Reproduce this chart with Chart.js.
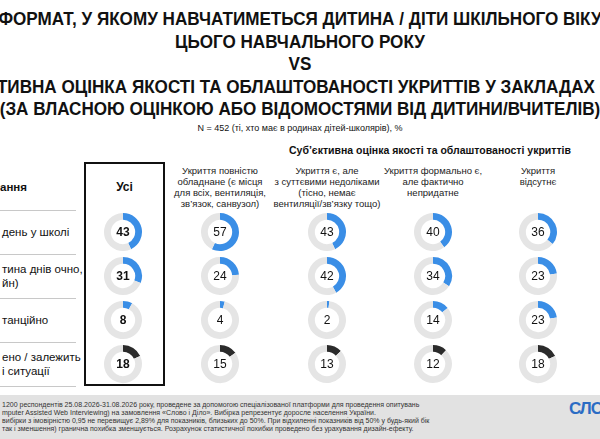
<!DOCTYPE html>
<html><head><meta charset="utf-8">
<script src="https://cdn.jsdelivr.net/npm/chart.js@4"></script>
<style>
body{margin:0;width:600px;height:439px;overflow:hidden;position:relative;background:#fff;font-family:Arial,"Liberation Sans",sans-serif;color:#111}
.abs{position:absolute}
.title{left:-200px;width:1000px;text-align:center;font-weight:bold;font-size:19px;line-height:22.5px;top:8px;white-space:nowrap;transform:scaleX(0.9)}
.ch{position:absolute;width:40px;height:40px}
.hd{position:absolute;text-align:center;font-size:9.5px;line-height:11px;color:#222}
.rl{position:absolute;left:2px;font-size:11.5px;line-height:14px;white-space:nowrap}
.sep{position:absolute;left:0;width:76px;height:1px;background:#c8c8c8}
.foot{position:absolute;left:0;top:395px;width:600px;height:44px;background:#e2e2e2;font-size:7px;line-height:8px;color:#333}
</style></head><body>
<div class="abs title">ФОРМАТ, У ЯКОМУ НАВЧАТИМЕТЬСЯ ДИТИНА / ДІТИ ШКІЛЬНОГО ВІКУ<br>ЦЬОГО НАВЧАЛЬНОГО РОКУ<br>VS<br>СУБ'ЄКТИВНА ОЦІНКА ЯКОСТІ ТА ОБЛАШТОВАНОСТІ УКРИТТІВ У ЗАКЛАДАХ ОСВІТИ<br>(ЗА ВЛАСНОЮ ОЦІНКОЮ АБО ВІДОМОСТЯМИ ВІД ДИТИНИ/ВЧИТЕЛІВ)</div>
<div class="abs" style="left:0;width:600px;text-align:center;top:123px;font-size:9px">N = 452 (ті, хто має в родинах дітей-школярів), %</div>
<div class="abs" style="left:280px;width:300px;text-align:center;top:144px;font-size:10.5px;font-weight:bold">Суб’єктивна оцінка якості та облаштованості укриттів</div>
<div class="abs" style="left:84px;top:162px;width:77px;height:220px;border:2px solid #111"></div>
<div class="abs" style="left:84px;top:180px;width:81px;text-align:center;font-weight:bold;font-size:12px">Усі</div>
<div class="rl" style="top:180px;font-weight:bold;left:0">ання</div>
<div id="root"></div>
<div class="foot">
<div style="position:absolute;left:2px;top:6px">1200 респондентів 25.08.2026-31.08.2026 року, проведене за допомогою спеціалізованої платформи для проведення опитувань<br>mputer Assisted Web Interviewing) на замовлення «Слово і Діло». Вибірка репрезентує доросле населення України.<br>вибірки з імовірністю 0,95 не перевищує 2,89% для показників, близьких до 50%. При відхиленні показників від 50% у будь-який бік<br>так і зменшення) гранична похибка зменшується. Розрахунок статистичної похибки проведено без урахування дизайн-ефекту.</div>
<div style="position:absolute;left:569px;top:10px;font-size:17px;font-weight:bold;color:#2b6cc4;letter-spacing:-1px">СЛО</div>
</div>
<script>
const headers = ['', 'Укриття повністю<br>обладнане (є місця<br>для всіх, вентиляція,<br>зв’язок, санвузол)', 'Укриття є, але<br>з суттєвими недоліками<br>(тісно, немає<br>вентиляції/зв’язку тощо)', 'Укриття формально є,<br>але фактично<br>непридатне', 'Укриття<br>відсутнє']
const rowLabels = [['день у школі'], ['тина днів очно,', 'йн)'], ['танційно'], ['ено / залежить', 'і ситуації']]
// rows: повний день, частина днів, дистанційно, не визначено; cols: усі + 4 категорії
const fullDay = [43, 57, 43, 40, 36]
const partDays = [31, 24, 42, 34, 23]
const remote = [8, 4, 2, 14, 23]
const undecided = [18, 15, 13, 12, 18]
const rows = [fullDay, partDays, remote, undecided]
const rowColors = ['#3a8ee6', '#3a8ee6', '#3a8ee6', '#2b2b2b']

const colX = [123, 220, 327, 433, 538]
const rowY = [232, 276, 320, 364]
const root = document.querySelector('#root')

headers.forEach((h, i) => {
  if(!h) return
  const d = document.createElement('div')
  d.className = 'hd'
  d.style.left = (colX[i] - 70) + 'px'
  d.style.width = '140px'
  d.style.top = '165px'
  d.innerHTML = h
  root.appendChild(d)
})

rowLabels.forEach((lines, r) => {
  const d = document.createElement('div')
  d.className = 'rl'
  d.style.top = (rowY[r] - lines.length * 7) + 'px'
  d.innerHTML = lines.join('<br>')
  root.appendChild(d)
  const s = document.createElement('div')
  s.className = 'sep'
  s.style.top = (rowY[r] - 22) + 'px'
  root.appendChild(s)
})
const last = document.createElement('div')
last.className = 'sep'
last.style.top = (rowY[3] + 22) + 'px'
root.appendChild(last)

const centerText = {
  id: 'centerText',
  afterDraw(chart, args, opts){
    const {ctx, chartArea} = chart
    ctx.save()
    ctx.font = (opts.bold ? 'bold ' : '') + '12px Arial'
    ctx.fillStyle = '#111'
    ctx.textAlign = 'center'
    ctx.textBaseline = 'middle'
    ctx.fillText(opts.text, (chartArea.left + chartArea.right) / 2, (chartArea.top + chartArea.bottom) / 2 + 1)
    ctx.restore()
  }
}

rows.forEach((vals, r) => {
  vals.forEach((v, c) => {
    const wrap = document.createElement('div')
    wrap.className = 'ch'
    wrap.style.left = (colX[c] - 20) + 'px'
    wrap.style.top = (rowY[r] - 20) + 'px'
    const cv = document.createElement('canvas')
    wrap.appendChild(cv)
    root.appendChild(wrap)
    new Chart(cv, {
      type: 'doughnut',
      plugins: [centerText],
      data: {
        datasets: [{
          data: [v, 100 - v],
          backgroundColor: [rowColors[r], '#e5e5e5'],
          borderWidth: 0,
        }]
      },
      options: {
        responsive: true,
        maintainAspectRatio: false,
        animation: false,
        cutout: '64%',
        layout: {padding: 1},
        events: [],
        plugins: {
          legend: {display: false},
          tooltip: {enabled: false},
          centerText: {text: String(v), bold: c == 0},
        }
      }
    })
  })
})
</script>
</body></html>
